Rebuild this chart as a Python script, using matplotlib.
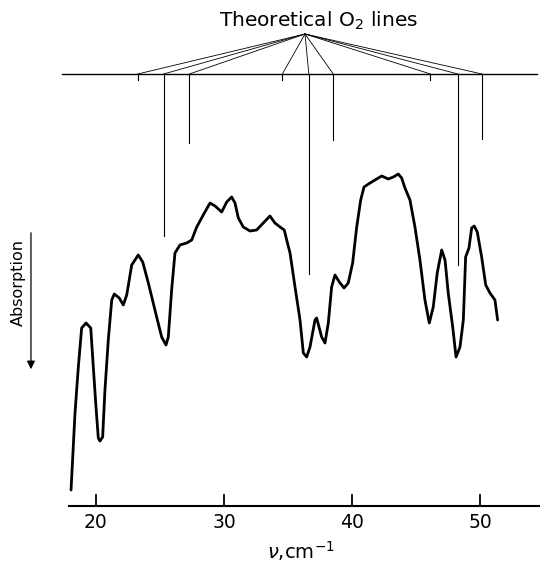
import numpy as np
import matplotlib
matplotlib.use('Agg')
import matplotlib.pyplot as plt


# wavenumber (cm^-1) and absorption (arbitrary units, larger = less absorption)
nu = [18.05, 18.36, 18.62, 18.88, 19.22, 19.59, 19.79, 20.00, 20.18, 20.31,
      20.52, 20.70, 20.96, 21.23, 21.43, 21.82, 22.13, 22.40, 22.79, 23.30,
      23.65, 24.09, 24.74, 25.13, 25.47, 25.65, 25.91, 26.17, 26.56, 27.09,
      27.48, 27.87, 28.38, 28.91, 29.30, 29.82, 30.21, 30.60, 30.86, 31.12,
      31.51, 32.03, 32.55, 33.07, 33.59, 33.98, 34.38, 34.71, 34.90, 35.16,
      35.55, 35.94, 36.20, 36.46, 36.72, 37.11, 37.24, 37.63, 37.89, 38.15,
      38.41, 38.67, 39.01, 39.38, 39.71, 40.05, 40.37, 40.68, 40.94, 41.41,
      41.80, 42.32, 42.84, 43.23, 43.62, 43.88, 44.14, 44.53, 44.92, 45.31,
      45.70, 46.04, 46.35, 46.66, 47.01, 47.27, 47.52, 47.87, 48.13, 48.44,
      48.70, 48.88, 49.14, 49.35, 49.55, 49.79, 50.13, 50.45, 50.78, 51.17,
      51.38]
signal = [16, 93, 139, 178, 183, 178, 139, 99, 68, 65,
          69, 116, 166, 206, 212, 208, 201, 211, 241, 251,
          244, 223, 189, 169, 161, 169, 216, 253, 261, 263,
          266, 279, 291, 303, 300, 294, 304, 309, 303, 288,
          279, 275, 276, 283, 290, 283, 279, 276, 266, 253,
          219, 186, 153, 149, 159, 186, 188, 169, 163, 183,
          219, 231, 224, 218, 223, 243, 279, 306, 319, 323,
          326, 330, 327, 329, 332, 328, 318, 306, 279, 246,
          206, 183, 199, 233, 256, 246, 213, 179, 149, 159,
          186, 249, 258, 278, 280, 274, 249, 221, 213, 206,
          186]

# theoretical O2 line positions and how far each marker reaches down
o2_lines = [23.26, 25.28, 27.30, 34.56, 36.63, 38.54, 46.13, 48.28, 50.16]
o2_reach = [426, 270, 363, 426, 232, 366, 426, 241, 367]

ticks = [20, 30, 40, 50]


def main():
    fig = plt.figure(figsize=(5.4, 5.62), dpi=100)
    ax = fig.add_axes([0, 0, 1, 1])
    ax.set_xlim(12.5, 54.69)
    ax.set_ylim(-56, 506)

    ax.plot(nu, signal, color='k', lw=2.0, solid_joinstyle='round',
            solid_capstyle='round')

    # fan diagram of the theoretical lines
    base = 432
    apex = (36.33, 472)
    ax.plot([17.34, 54.45], [base, base], color='k', lw=1.0)
    for x, r in zip(o2_lines, o2_reach):
        ax.plot([apex[0], x], [apex[1], base], color='k', lw=0.6)
        ax.plot([x, x], [base, r], color='k', lw=0.8)
    ax.text(37.42, 485, 'Theoretical O$_2$ lines', ha='center', va='center',
            fontsize=14.5)

    # y label with arrow
    ax.annotate('', xy=(14.92, 134), xytext=(14.92, 276),
                arrowprops=dict(arrowstyle='-|>', color='k', lw=0.9,
                                mutation_scale=12))
    ax.text(13.9, 224, 'Absorption', rotation=90, ha='center', va='center',
            fontsize=11.5)

    for s in ['top', 'left', 'right']:
        ax.spines[s].set_visible(False)
    ax.spines['bottom'].set_position(('data', 0))
    ax.spines['bottom'].set_bounds(17.9, 54.69)
    ax.spines['bottom'].set_linewidth(1.5)
    ax.set_xticks(ticks)
    ax.set_yticks([])
    ax.tick_params(axis='x', direction='in', length=0, pad=5,
                   labelsize=13.5)
    # short upward tick marks
    for t in ticks:
        ax.plot([t, t], [0, 11], color='k', lw=1.3, zorder=5)
    ax.text(36.0, -45, r'$\nu$,cm$^{-1}$', ha='center', va='center',
            fontsize=14)

    fig.savefig('out.png', dpi=100)


if __name__ == '__main__':
    main()
